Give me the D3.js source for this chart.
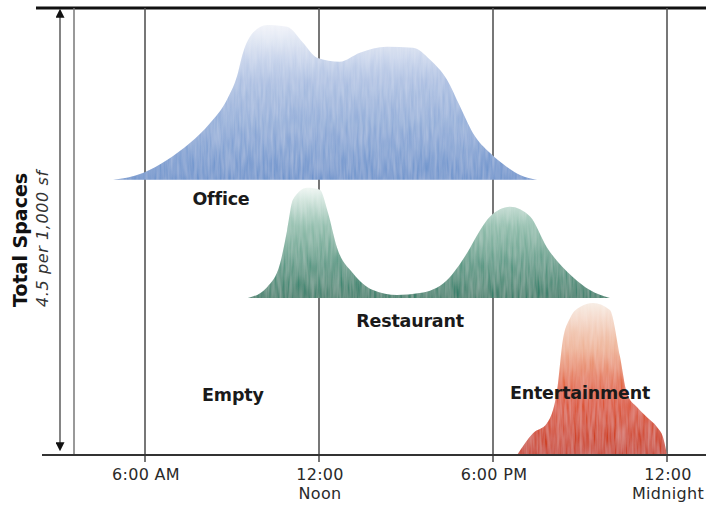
<!DOCTYPE html>
<html lang="en">
<head>
  <meta charset="UTF-8">
  <title>Shared parking demand</title>
  <script src="https://d3js.org/d3.v7.min.js"></script>
  <style>
    body { margin: 0; background: #fff; }
    svg { width: 706px; height: 512px; display: block; }
  </style>
</head>
<body>
  <svg></svg>

  <script>
    // hours of the day and demand (spaces per 1,000 sf)
    const officeHours = [4.9, 5.93, 6.76, 7.55, 8.24, 8.83, 9.17, 9.38, 9.72, 10.21, 10.9, 11.45, 11.93, 12.72, 13.41, 14.34, 15.24, 15.83, 16.41, 16.86, 17.31, 17.9, 18.48, 18.93, 19.52];
    const officeValues = [0, 0.07, 0.2, 0.37, 0.57, 0.81, 1.04, 1.28, 1.48, 1.56, 1.54, 1.38, 1.23, 1.19, 1.28, 1.34, 1.33, 1.21, 1.01, 0.74, 0.47, 0.27, 0.13, 0.05, 0];

    const restaurantHours = [9.55, 10.21, 10.66, 10.9, 11.1, 11.59, 12.03, 12.31, 12.62, 13.17, 13.86, 14.69, 15.48, 16.41, 17.1, 17.55, 17.9, 18.59, 19.28, 19.86, 20.76, 21.34, 22.03];
    const restaurantValues = [0, 0.11, 0.35, 0.68, 0.99, 1.11, 1.09, 0.86, 0.51, 0.25, 0.08, 0.03, 0.05, 0.18, 0.45, 0.68, 0.82, 0.92, 0.82, 0.51, 0.21, 0.08, 0];

    const entertainmentHours = [18.83, 19.38, 19.86, 20.21, 20.41, 20.66, 21.0, 21.45, 22.03, 22.38, 22.62, 22.97, 23.31, 23.66, 23.86, 24];
    const entertainmentValues = [0, 0.22, 0.32, 0.65, 1.16, 1.38, 1.49, 1.53, 1.46, 0.99, 0.62, 0.48, 0.38, 0.28, 0.18, 0];

    // each use sits on its own band of the 4.5 spaces
    const bandNames = [`office`, `restaurant`, `entertainment`];
    const bandBases = [2.77, 1.58, 0];

    const tickHours = [6, 12, 18, 24];
    const tickLabels = [[`6:00 AM`], [`12:00`, `Noon`], [`6:00 PM`], [`12:00`, `Midnight`]];

    const labelNames = [`Office`, `Restaurant`, `Empty`, `Entertainment`];
    const labelHours = [8.62, 15.14, 9.03, 21.0];
    const labelValues = [2.52, 1.29, 0.54, 0.56];

    const width = 706;
    const height = 512;
    const margin = {top: 8, bottom: 57, left: 74, right: 0};

    const xScale = d3.scaleLinear()
      .domain([6, 24])
      .range([145, 667]);

    const yScale = d3.scaleLinear()
      .domain([0, 4.5])
      .range([height - margin.bottom, margin.top]);

    const svg = d3.select(`svg`)
      .attr(`viewBox`, `0 0 ${width} ${height}`);

    const defs = svg.append(`defs`);

    const gradients = [
      [`office`, [[0, `#f1f3f9`], [0.35, `#adc0e2`], [1, `#6a91cb`]]],
      [`restaurant`, [[0, `#eef6f2`], [0.35, `#8dbcaa`], [1, `#2f7a64`]]],
      [`entertainment`, [[0, `#f7ebe2`], [0.3, `#eeb093`], [0.6, `#df5530`], [1, `#c8361a`]]],
    ];

    gradients.forEach(([name, stops]) => {
      const g = defs.append(`linearGradient`)
        .attr(`id`, `grad-${name}`)
        .attr(`x1`, 0).attr(`y1`, 0)
        .attr(`x2`, 0).attr(`y2`, 1);
      stops.forEach(([o, c]) => {
        g.append(`stop`).attr(`offset`, o).attr(`stop-color`, c);
      });
    });

    // streaky print texture
    const filter = defs.append(`filter`).attr(`id`, `grain`);
    filter.append(`feTurbulence`)
      .attr(`type`, `fractalNoise`)
      .attr(`baseFrequency`, `0.35 0.04`)
      .attr(`numOctaves`, 2)
      .attr(`seed`, 3)
      .attr(`result`, `noise`);
    filter.append(`feColorMatrix`)
      .attr(`in`, `noise`)
      .attr(`type`, `matrix`)
      .attr(`values`, `0 0 0 0 1  0 0 0 0 1  0 0 0 0 1  0 0 0 0.3 -0.05`)
      .attr(`result`, `white`);
    filter.append(`feComposite`)
      .attr(`in`, `white`)
      .attr(`in2`, `SourceGraphic`)
      .attr(`operator`, `in`)
      .attr(`result`, `spots`);
    const merge = filter.append(`feMerge`);
    merge.append(`feMergeNode`).attr(`in`, `SourceGraphic`);
    merge.append(`feMergeNode`).attr(`in`, `spots`);

    // frame
    svg.append(`line`)
      .attr(`x1`, 36).attr(`x2`, width)
      .attr(`y1`, margin.top).attr(`y2`, margin.top)
      .attr(`stroke`, `#111`).attr(`stroke-width`, 3);

    svg.append(`line`)
      .attr(`x1`, margin.left).attr(`x2`, margin.left)
      .attr(`y1`, margin.top).attr(`y2`, yScale(0))
      .attr(`stroke`, `#777`).attr(`stroke-width`, 1.5);

    // grid lines with ticks
    svg.selectAll(`.grid`)
      .data(tickHours)
      .enter()
      .append(`line`)
      .attr(`class`, `grid`)
      .attr(`x1`, d => xScale(d)).attr(`x2`, d => xScale(d))
      .attr(`y1`, margin.top).attr(`y2`, yScale(0) + 7)
      .attr(`stroke`, `#555`).attr(`stroke-width`, 1.6);

    // areas
    const series = [
      [officeHours, officeValues],
      [restaurantHours, restaurantValues],
      [entertainmentHours, entertainmentValues],
    ];

    const area = base => d3.area()
      .x(d => xScale(d[0]))
      .y0(yScale(base))
      .y1(d => yScale(base + d[1]))
      .curve(d3.curveMonotoneX);

    series.forEach(([hours, values], i) => {
      const points = hours.map((h, j) => [h, values[j]]);
      svg.append(`path`)
        .datum(points)
        .attr(`d`, area(bandBases[i]))
        .attr(`fill`, `url(#grad-${bandNames[i]})`)
        .attr(`filter`, `url(#grain)`);
    });

    // bottom axis line
    svg.append(`line`)
      .attr(`x1`, 42).attr(`x2`, width)
      .attr(`y1`, yScale(0)).attr(`y2`, yScale(0))
      .attr(`stroke`, `#333`).attr(`stroke-width`, 2);

    // double-headed arrow for the total
    defs.append(`marker`)
      .attr(`id`, `head`)
      .attr(`viewBox`, `0 0 10 10`)
      .attr(`refX`, 2).attr(`refY`, 5)
      .attr(`markerWidth`, 9).attr(`markerHeight`, 9)
      .attr(`markerUnits`, `userSpaceOnUse`)
      .attr(`orient`, `auto-start-reverse`)
      .append(`path`)
      .attr(`d`, `M0,0 L10,5 L0,10 Z`)
      .attr(`fill`, `#111`);

    svg.append(`line`)
      .attr(`x1`, 60).attr(`x2`, 60)
      .attr(`y1`, yScale(4.5) + 8).attr(`y2`, yScale(0) - 11)
      .attr(`stroke`, `#666`).attr(`stroke-width`, 1.6)
      .attr(`marker-start`, `url(#head)`)
      .attr(`marker-end`, `url(#head)`);

    // axis title, both lines start at the same height
    const title = svg.append(`g`)
      .attr(`transform`, `translate(27, 307) rotate(-90)`);
    title.append(`text`)
      .attr(`font-family`, `DejaVu Sans, sans-serif`)
      .attr(`font-weight`, `bold`)
      .attr(`font-size`, 19)
      .attr(`fill`, `#111`)
      .text(`Total Spaces`);
    title.append(`text`)
      .attr(`y`, 21)
      .attr(`font-family`, `DejaVu Sans, sans-serif`)
      .attr(`font-style`, `italic`)
      .attr(`font-size`, 16)
      .attr(`letter-spacing`, 0.6)
      .attr(`fill`, `#333`)
      .text(`4.5 per 1,000 sf`);

    // tick labels
    const ticks = svg.selectAll(`.tick`)
      .data(tickHours)
      .enter()
      .append(`text`)
      .attr(`class`, `tick`)
      .attr(`text-anchor`, `middle`)
      .attr(`font-family`, `DejaVu Sans, sans-serif`)
      .attr(`font-size`, 16)
      .attr(`letter-spacing`, 0.3)
      .attr(`fill`, `#2a2a2a`);

    ticks.selectAll(`tspan`)
      .data((d, i) => tickLabels[i].map(t => [d, t]))
      .enter()
      .append(`tspan`)
      .attr(`x`, d => xScale(d[0]) + 1)
      .attr(`y`, (d, j) => yScale(0) + 25 + j * 19)
      .text(d => d[1]);

    // use labels
    svg.selectAll(`.label`)
      .data(labelNames)
      .enter()
      .append(`text`)
      .attr(`class`, `label`)
      .attr(`x`, (d, i) => xScale(labelHours[i]))
      .attr(`y`, (d, i) => yScale(labelValues[i]))
      .attr(`text-anchor`, `middle`)
      .attr(`font-family`, `DejaVu Sans, sans-serif`)
      .attr(`font-weight`, `bold`)
      .attr(`font-size`, 17.5)
      .attr(`letter-spacing`, -0.2)
      .attr(`fill`, `#1a1a1a`)
      .text(d => d);
  </script>
</body>
</html>
